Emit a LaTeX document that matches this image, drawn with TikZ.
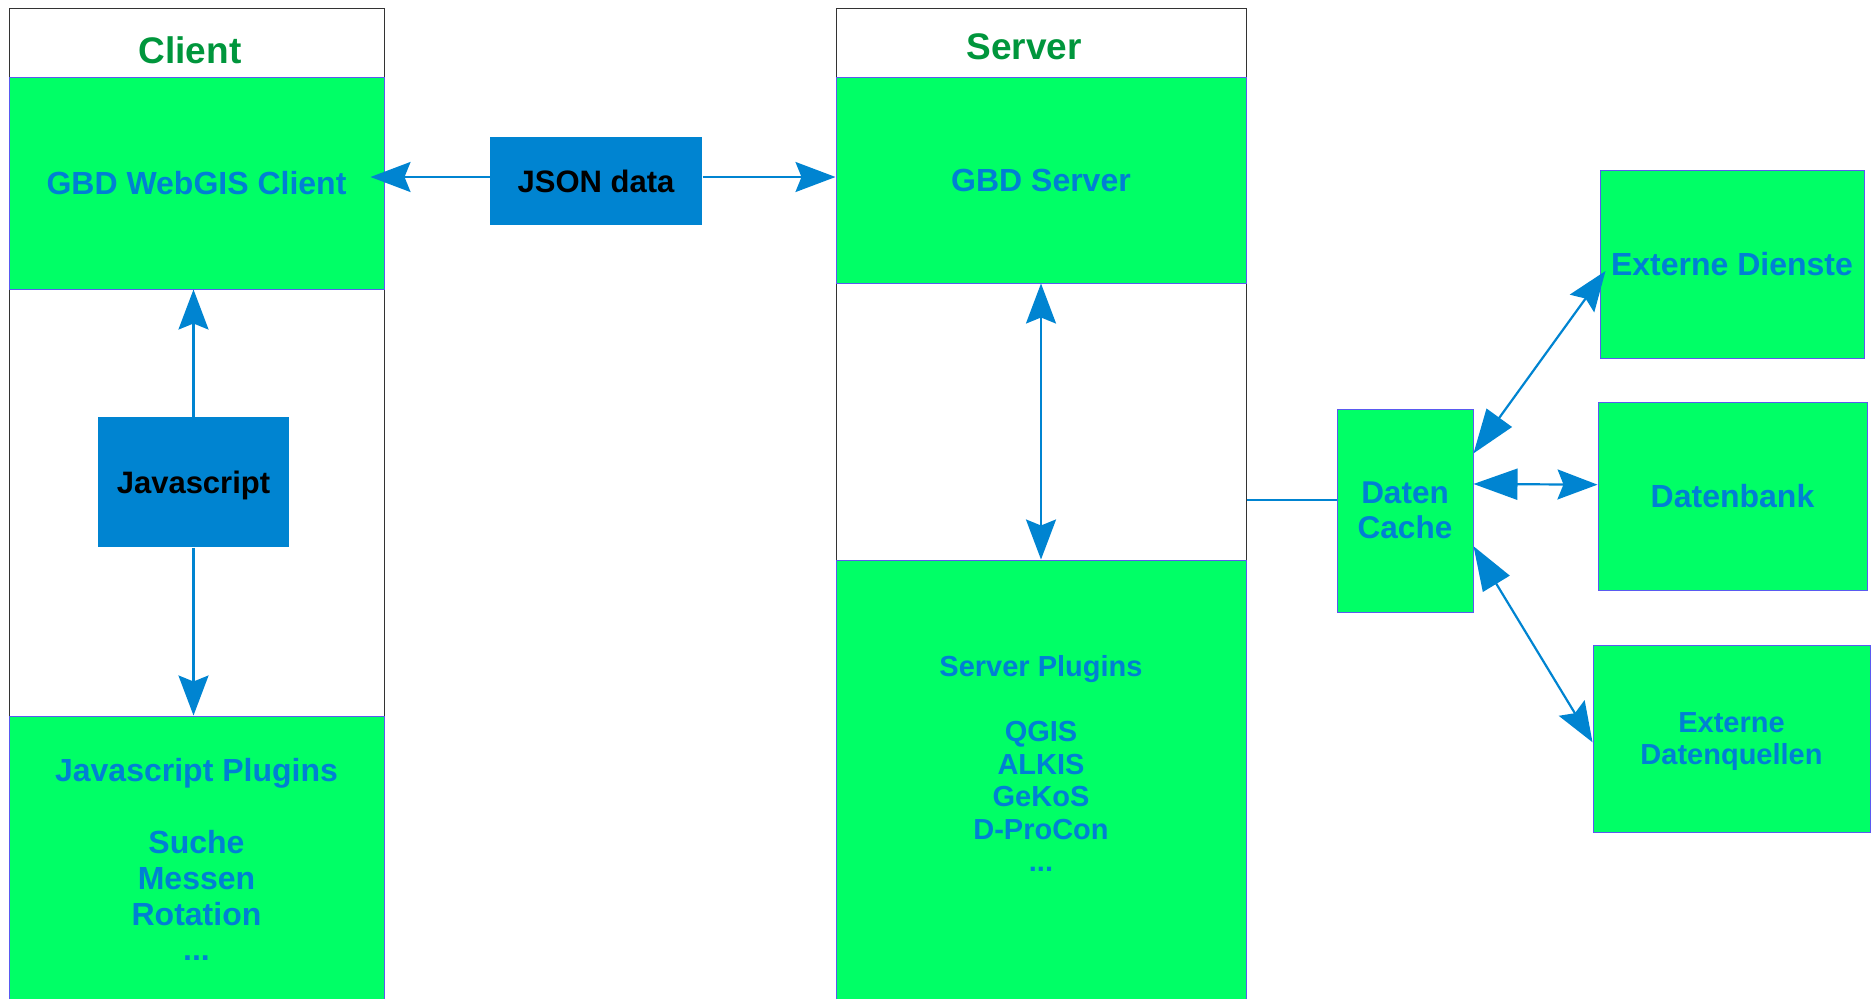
\documentclass[tikz,border=0pt]{standalone}
\usepackage{fontspec}
\setmainfont{Liberation Sans}
\usetikzlibrary{arrows.meta,calc}

\begin{document}
\begin{tikzpicture}[x=1pt,y=-1pt, line width=1pt,
        frame/.style={draw=framecolor, inner sep=0pt},
        greenbox/.style={draw=edgecolor, fill=boxgreen, inner sep=0pt, text=textblue, align=center,
            font=\fontsize{32}{36}\selectfont\bfseries},
        bluebox/.style={fill=boxblue, inner sep=0pt, text height=23pt, text depth=0pt,
            font=\fontsize{31}{36}\selectfont\bfseries},
        title/.style={text=titlegreen, font=\fontsize{37}{44}\selectfont\bfseries},
        plugintext/.style={inner sep=0pt, text=textblue, align=center},
        conn/.style={draw=boxblue, line width=2.2pt},
        bigtip/.tip={Stealth[length=40pt, width=30pt, inset=6pt]},
        flattip/.tip={Triangle[length=44pt, width=31pt]}]
        \definecolor{boxgreen}{HTML}{00FF66}
        \definecolor{edgecolor}{HTML}{5A5AF0}
        \definecolor{framecolor}{HTML}{333333}
        \definecolor{boxblue}{HTML}{0084D1}
        \definecolor{textblue}{HTML}{0080D4}
        \definecolor{titlegreen}{HTML}{00963C}

        \clip (0,0) rectangle (1875,999);

        % Client column
        \node[frame, minimum width=375pt, minimum height=1032pt] (clframe) at (196.5,524) {};
        \node[title] (cltitle) at (190,50) {Client};
        \node[greenbox, minimum width=375pt, minimum height=212pt] (cltop) at (196.5,183) {GBD WebGIS Client};
        \node[greenbox, minimum width=375pt, minimum height=324pt] (clbottom) at (196.5,878) {};
        \node[plugintext, anchor=north, font=\fontsize{32}{35.8}\selectfont\bfseries] (clplugins) at (196.5,758)
            {Javascript Plugins\\[36pt]Suche\\Messen\\Rotation\\...};
        \node[bluebox, minimum width=191pt, minimum height=130pt] (js) at (193.5,482) {Javascript};

        % Client arrows
        \draw[conn, -bigtip] (js.north) -- (js.north |- cltop.south);
        \draw[conn, -bigtip] (js.south) -- (js.south |- clbottom.north);

        % Server column
        \node[frame, minimum width=410pt, minimum height=1032pt] (srvframe) at (1041,524) {};
        \node[title] (srvtitle) at (1024,47) {Server};
        \node[greenbox, minimum width=410pt, minimum height=206pt] (srvtop) at (1041,180) {GBD Server};
        \node[greenbox, minimum width=410pt, minimum height=480pt] (srvbottom) at (1041,800) {};
        \node[plugintext, anchor=north, font=\fontsize{29}{32.5}\selectfont\bfseries] (srvplugins) at (1041,655)
            {Server Plugins\\[32.5pt]QGIS\\ALKIS\\GeKoS\\D-ProCon\\...};
        \draw[conn, bigtip-bigtip] (srvtop.south) -- (srvbottom.north);

        % JSON data between client and server
        \node[bluebox, minimum width=212pt, minimum height=88pt] (json) at (596,181) {JSON data};
        \coordinate (jsonl) at ([yshift=4pt]json.west);
        \coordinate (jsonr) at ([yshift=4pt]json.east);
        \draw[conn, -bigtip] (jsonl) -- ($(jsonl -| cltop.east)+(-14,0)$);
        \draw[conn, -bigtip] (jsonr) -- (jsonr -| srvtop.west);

        % Data sources
        \node[greenbox, minimum width=136pt, minimum height=203pt, font=\fontsize{31.5}{35}\selectfont\bfseries]
            (cache) at (1405,510.5) {Daten\\Cache};
        \node[greenbox, minimum width=264pt, minimum height=188pt] (ext) at (1732,264) {Externe Dienste};
        \node[greenbox, minimum width=269pt, minimum height=188pt] (db) at (1732.5,496) {Datenbank};
        \node[greenbox, minimum width=277pt, minimum height=187pt, text depth=0pt,
            font=\fontsize{29}{32}\selectfont\bfseries] (edq) at (1731.5,738.5) {Externe\\Datenquellen};

        % Cache connections
        \coordinate (cachein) at ($(cache.north west)!0.45!(cache.south west)$);
        \draw[conn] (cachein) -- (cachein -| srvframe.east);
        \draw[conn, flattip-bigtip] ($(cache.north east)!0.22!(cache.south east)$) -- ($(ext.west)+(6,7)$);
        \draw[conn, flattip-bigtip] ($(cache.north east)!0.37!(cache.south east)$) -- ($(db.north west)!0.44!(db.south west)$);
        \draw[conn, flattip-bigtip] ($(cache.north east)!0.675!(cache.south east)$) -- ($(edq.north west)!0.52!(edq.south west)$);
    \end{tikzpicture}
\end{document}
